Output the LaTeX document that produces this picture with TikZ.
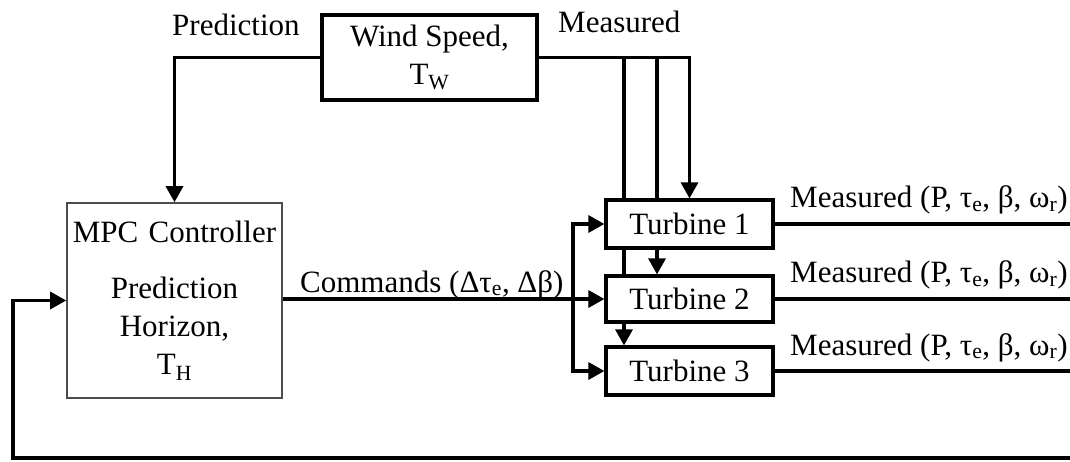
\documentclass[tikz,border=0pt]{standalone}
\usepackage{fontspec}
\setmainfont{Liberation Serif}
\usepackage{tikz}
\usetikzlibrary{arrows.meta, positioning, backgrounds}
\tikzstyle{block} = [rectangle, draw, line width=3.2pt, fill=white,
  minimum width=167pt, minimum height=47pt, inner sep=0pt, align=center]
\tikzstyle{arrow} = [line width=3.2pt, -{Triangle[length=16pt, width=17pt]}]
\tikzstyle{line} = [line width=3.2pt]
\tikzstyle{lbl} = [inner sep=0pt, anchor=base west]

\begin{document}
\begin{tikzpicture}[x=1pt, y=-1pt, font=\fontsize{31}{38}\selectfont]
    \useasboundingbox (0,0) rectangle (1070,462);
    \node[block, minimum width=215pt, minimum height=85pt] (wind) at (429.5,57.5) {Wind Speed,\\T\textsubscript{W}};
    \node[block, draw=black!70, line width=1.6pt, minimum width=215pt, minimum height=195pt,
      text width=215pt] (mpc) at (174.5,300.5) {MPC Controller\\[18pt]Prediction\\Horizon,\\T\textsubscript{H}};
    \node[block, minimum height=48pt] (t1) at (689.5,224) {Turbine 1};
    \node[block, minimum height=46pt] (t2) at (689.5,299) {Turbine 2};
    \node[block, minimum height=48pt] (t3) at (689.5,371) {Turbine 3};
    \coordinate (m2) at (657,58);
    \coordinate (m3) at (624,58);
    \coordinate (br) at (573,299);
    \coordinate (o1) at (1070,224);
    \coordinate (o2) at (1070,299);
    \coordinate (o3) at (1070,371);
    \coordinate (fb) at (1070,458);
    \coordinate (fbl) at (13,458);
    % wind speed
    \draw[arrow] (wind.west) -| (mpc.north);
    \draw[arrow] (wind.east) -| (t1.north);
    \begin{pgfonlayer}{background}
      \draw[arrow] (m2) -- (m2 |- t2.north);
      \draw[arrow] (m3) -- (m3 |- t3.north);
    \end{pgfonlayer}
    \node[lbl] at (172,36) {Prediction};
    \node[lbl] at (558,33) {Measured};
    % commands
    \draw[arrow] (mpc.east |- br) -- (t2.west);
    \draw[arrow] (br) |- (t1.west);
    \draw[arrow] (br) |- (t3.west);
    \node[lbl] at (300,292) {Commands (Δτ\textsubscript{e}, Δβ)};
    % outputs
    \draw[line] (t1.east) -- (o1);
    \draw[line] (t2.east) -- (o2);
    \draw[line] (t3.east) -- (o3);
    \node[lbl] at (790,208) {Measured (P, τ\textsubscript{e}, β, ω\textsubscript{r})};
    \node[lbl] at (790,283) {Measured (P, τ\textsubscript{e}, β, ω\textsubscript{r})};
    \node[lbl] at (790,355) {Measured (P, τ\textsubscript{e}, β, ω\textsubscript{r})};
    % feedback
    \draw[arrow] (fb) -- (fbl) |- (mpc.west);
  \end{tikzpicture}
\end{document}
